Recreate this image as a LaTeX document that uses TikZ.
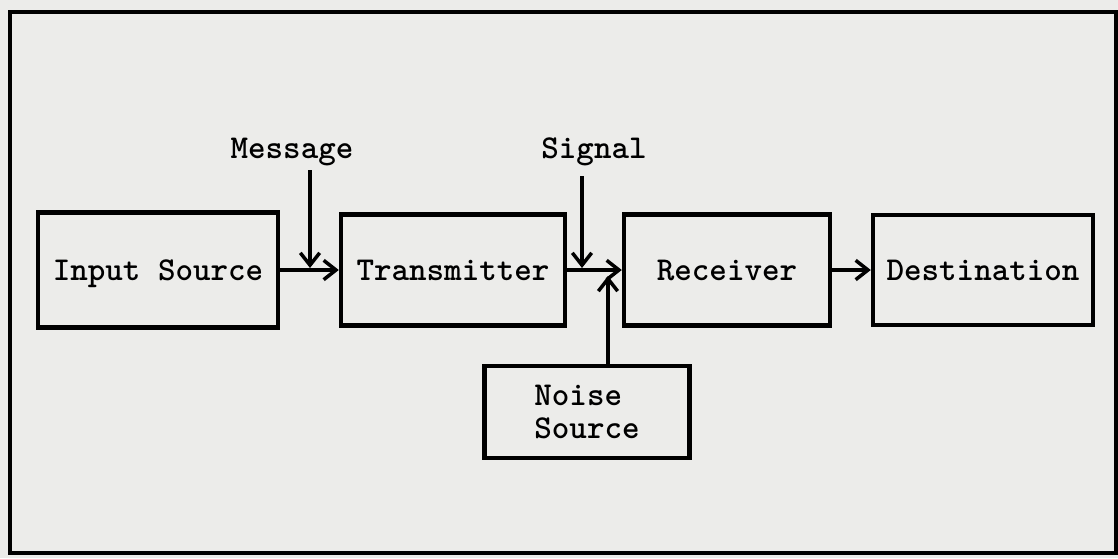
\documentclass[tikz,border=0pt]{standalone}
\usepackage{fontspec}
\usetikzlibrary{arrows.meta}
\definecolor{paper}{RGB}{236,236,234}
\newcommand{\typer}{\ttfamily\bfseries\fontsize{19}{18.5}\selectfont}
\tikzset{
  block/.style={draw,line width=2.5pt,align=left,inner sep=0pt,font=\typer},
  oneline/.style={text height=11.6pt,text depth=0pt},
  lbl/.style={inner sep=0pt,font=\typer},
  arr/.style={line width=2.5pt,-{Straight Barb[length=7pt,width=11pt,line width=2pt]}}
}
\begin{document}
\begin{tikzpicture}[x=0.02cm,y=-0.02cm]
  \fill[paper] (0,0) rectangle (1118,558);
  \useasboundingbox (0,0) rectangle (1118,558);
  \draw[line width=2.8pt] (10,12) rectangle (1116,553);
  % blocks
  \node[block,oneline,minimum width=240*0.02cm,minimum height=115*0.02cm] (input) at (158,270) {Input Source};
  \node[block,oneline,minimum width=224*0.02cm,minimum height=111*0.02cm] (trans) at (453,270) {Transmitter};
  \node[block,oneline,minimum width=206*0.02cm,minimum height=111*0.02cm] (recv) at (727,270) {Receiver};
  \node[block,oneline,minimum width=220*0.02cm,minimum height=110*0.02cm] (dest) at (983,270) {Destination};
  \node[block,minimum width=205*0.02cm,minimum height=92*0.02cm] (noise) at (587,412) {Noise\\Source};
  % labels
  \node[lbl] (msg) at (292,152) {Message};
  \node[lbl] (sig) at (594,152) {Signal};
  \coordinate (msgtip) at (310,268);
  \coordinate (sigtip) at (582,268);
  \coordinate (noisetip) at (608,276);
  % connectors
  \draw[arr] (input) -- (trans);
  \draw[arr] (trans) -- (recv);
  \draw[arr] (recv) -- (dest);
  \draw[arr] (msg.south -| msgtip) ++(0,4) -- (msgtip);
  \draw[arr] (sig.south -| sigtip) ++(0,10) -- (sigtip);
  \draw[arr] (noise.north -| noisetip) -- (noisetip);
\end{tikzpicture}
\end{document}
